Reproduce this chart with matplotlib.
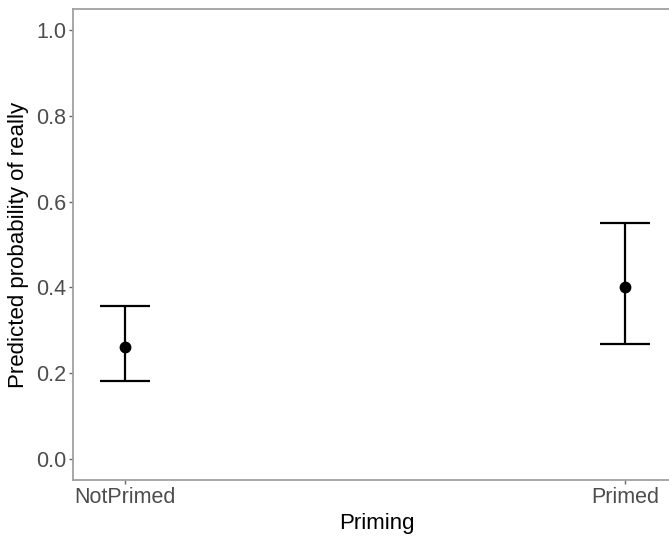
import matplotlib
matplotlib.use("Agg")
import matplotlib.pyplot as plt

plt.rcParams['font.family'] = ['Liberation Sans', 'DejaVu Sans']

# predicted probabilities with confidence limits
groups = ['NotPrimed', 'Primed']
estimate = [0.261, 0.401]
lower = [0.182, 0.268]
upper = [0.357, 0.550]

fig = plt.figure(figsize=(6.69, 5.36), dpi=100)
# panel runs past the right edge of the picture, as in the original
ax = fig.add_axes([73 / 669, 56 / 536, 607 / 669, 471 / 536])

x = list(range(1, len(groups) + 1))
err = [[e - l for e, l in zip(estimate, lower)],
       [u - e for e, u in zip(estimate, upper)]]
ax.errorbar(x, estimate, yerr=err, fmt='o', color='black', ms=7.5,
            elinewidth=1.6, capsize=18, capthick=1.6)

ax.set_xlim(0.896, 2.11)
ax.set_ylim(-0.05, 1.05)
ax.set_xticks(x)
ax.set_xticklabels(groups)
ax.set_yticks([0.0, 0.2, 0.4, 0.6, 0.8, 1.0])
ax.set_yticklabels(['0.0', '0.2', '0.4', '0.6', '0.8', '1.0'])

for s in ax.spines.values():
    s.set_color('#a0a0a0')
    s.set_linewidth(1.3)
# right border is cut off in the original picture
ax.spines['right'].set_visible(False)
ax.tick_params(colors='#4d4d4d', labelsize=15.5, length=3, width=1, pad=2)
ax.tick_params(axis='both', color='#666666')

ax.set_xlabel('Priming', fontsize=16, color='black', labelpad=4)
ax.set_ylabel('Predicted probability of really', fontsize=16, color='black', labelpad=5)

plt.savefig('out.png', dpi=100)
